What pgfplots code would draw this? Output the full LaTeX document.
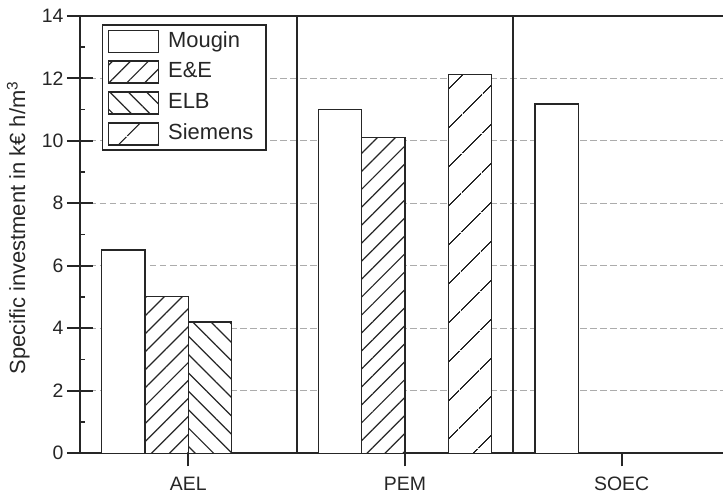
\documentclass[border=0pt]{standalone}
\usepackage{fontspec}
\setmainfont{Liberation Sans}
\usepackage{pgfplots}
\pgfplotsset{compat=1.18}
\usetikzlibrary{patterns.meta}

\pgfplotsset{
  mylegend/.style={legend image code/.code={\draw[##1, line width=1.6bp] (0bp,-11bp) rectangle (50bp,11bp);}},
  barstyle/.style={draw=black!85, fill=white, line width=1.6bp, mylegend},
}

\begin{document}
\begin{tikzpicture}
\begin{axis}[
  scale only axis, width=650bp, height=437.5bp,
  xmin=-0.5, xmax=2.5, ymin=0, ymax=14,
  ybar, bar width=0.2,
  xtick={0,1,2}, xticklabels={AEL,PEM,SOEC},
  ytick={0,2,...,14},
  tick pos=left, tick align=outside, major tick length=13bp,
  tick style={line width=1.7bp, black!85},
  axis line style={line width=1.7bp, black!85},
  ymajorgrids, major grid style={gray!65, line width=1.3bp, dash pattern=on 6.5bp off 3.5bp},
  /pgf/number format/assume math mode=true,
  ticklabel style={font=\fontsize{19.5}{21}\selectfont, text=black!85},
  xticklabel style={yshift=-7bp},
  ylabel={Specific investment in k€ h/m\textsuperscript{3}},
  ylabel style={font=\fontsize{22}{24}\selectfont, text=black!85, at={(axis description cs:-0.0846,0.515)}, anchor=base},
  legend style={at={(axis description cs:0.0334,0.9806)}, anchor=north west,
    draw=black!85, line width=1.7bp, fill=white,
    inner xsep=5bp, inner ysep=4.4bp, row sep=7.3bp, column sep=9bp,
    font=\fontsize{22}{23}\selectfont, text=black!85,
    nodes={inner sep=0bp, text height=16bp, text depth=4.5bp, text width=93bp, align=left}},
  legend cell align=left,
]
\addplot[barstyle, bar shift=-0.3] coordinates {(0,6.5) (1,11.0) (2,11.18)};
\addlegendentry{Mougin}
\addplot[barstyle, bar shift=-0.1, postaction={pattern={Lines[angle=45,distance=12.7bp,line width=1.2bp]}, pattern color=black!85}] coordinates {(0,5.02) (1,10.1)};
\addlegendentry{E\&E}
\addplot[barstyle, bar shift=0.1, postaction={pattern={Lines[angle=-45,distance=13bp,line width=1.2bp]}, pattern color=black!85}] coordinates {(0,4.2)};
\addlegendentry{ELB}
\addplot[barstyle, bar shift=0.3, postaction={pattern={Lines[angle=45,distance=27.6bp,line width=1.2bp]}, pattern color=black!85}] coordinates {(1,12.12)};
\addlegendentry{Siemens}
\draw[line width=1.7bp, black!85] (axis cs:0.5,0) -- (axis cs:0.5,14);
\draw[line width=1.7bp, black!85] (axis cs:1.5,0) -- (axis cs:1.5,14);
\end{axis}
\begin{axis}[
  scale only axis, width=650bp, height=437.5bp,
  xmin=-0.5, xmax=2.5, ymin=0, ymax=14,
  xtick=\empty, ytick={0,2,...,14}, yticklabels={},
  minor y tick num=1,
  tick pos=left, tick align=inside, major tick length=13bp, minor tick length=5bp,
  tick style={line width=1.7bp, black!85},
  axis line style={draw=none},
]
\end{axis}
\pgfresetboundingbox
\path[use as bounding box] ([shift={(-80bp,-43.7bp)}]current axis.south west) rectangle ([shift={(643bp,453.3bp)}]current axis.south west);
\end{tikzpicture}
\end{document}
